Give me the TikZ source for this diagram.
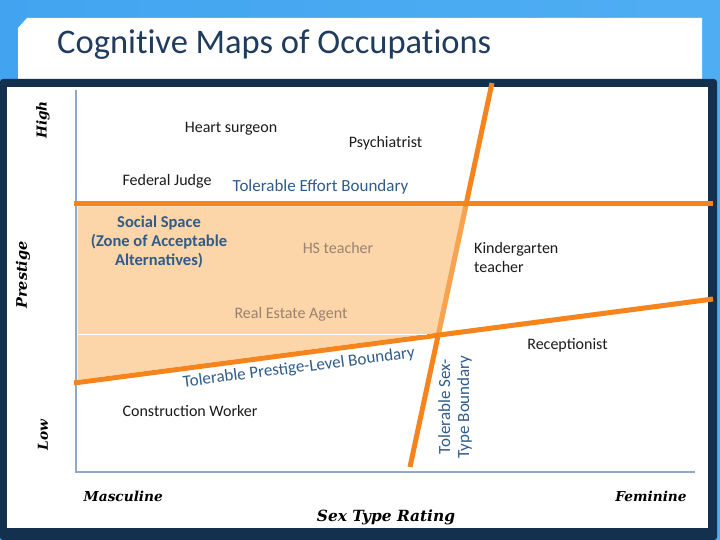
\documentclass[tikz,border=0pt]{standalone}
\usepackage{fontspec}
\setmainfont{Carlito}
\newfontfamily\titlefont{Carlito}[Ligatures=NoCommon]
\newfontfamily\axisfont{DejaVu Serif}
\definecolor{bgblue}{HTML}{42A4F0}
\definecolor{bgblue2}{HTML}{4FAEF3}
\definecolor{navy}{HTML}{14304F}
\definecolor{titleblue}{HTML}{1F3B5E}
\definecolor{labelblue}{HTML}{2F5C8A}
\definecolor{darktext}{HTML}{1B1B1B}
\definecolor{fadetext}{HTML}{998271}
\definecolor{axisc}{HTML}{8EA9CC}
\definecolor{orangec}{HTML}{F6841C}
\definecolor{zonefill}{RGB}{250,185,113}
\begin{document}
\begin{tikzpicture}[x=1pt,y=-1pt,
  lab/.style={inner sep=0pt, text=darktext, font=\fontsize{16}{19}\selectfont},
  bluelab/.style={inner sep=0pt, text=labelblue, font=\fontsize{17}{20}\selectfont},
  fadelab/.style={lab, text=fadetext},
  axlab/.style={inner sep=0pt, text=black, font=\axisfont\bfseries\itshape\fontsize{13.7}{16}\selectfont},
  orangeline/.style={draw=orangec, line width=5pt},
  axisline/.style={draw=axisc, line width=2.5pt}
]
\useasboundingbox (0,0) rectangle (720,540);
% background
\shade[left color=bgblue, right color=bgblue2] (0,0) rectangle (720,540);
% title box
\fill[white] (18,28) -- (27,18) -- (702,18) -- (702,85) -- (18,85) -- cycle;
\node[anchor=base west, inner sep=0pt, text=titleblue, font=\titlefont\fontsize{34.5}{40}\selectfont] (title) at (57,53.5) {Cognitive Maps of Occupations};
% navy frame and white panel
\fill[navy, rounded corners=3pt] (0,79) rectangle (717,540);
\fill[white] (7,87) rectangle (708,528);
% axes
\coordinate (ytop) at (76,90);
\coordinate (origin) at (76,472);
\coordinate (xend) at (695,472);
\draw[axisline] (ytop) -- (origin) -- (xend);
% boundaries
\coordinate (effL) at (74,204);
\coordinate (effR) at (713,204);
\coordinate (sexT) at (492,83);
\coordinate (sexB) at (410,467);
\coordinate (preL) at (74,383);
\coordinate (preR) at (713,299);
\draw[orangeline] (effL) -- (effR);
\draw[orangeline] (sexT) -- (sexB);
\draw[orangeline] (preL) -- (preR);
% zone of acceptable alternatives
\fill[zonefill, fill opacity=0.6] (77.5,206.5) -- (468.2,206.5) -- (441.4,332.1) -- (77.5,380) -- cycle;
\draw[white, line width=0.8pt] (77.5,334) -- (427,334);
% labels
\node[lab, anchor=base] (heart) at (231,133) {Heart surgeon};
\node[lab, anchor=base] (psych) at (385.5,148) {Psychiatrist};
\node[lab, anchor=base] (judge) at (167,186) {Federal Judge};
\node[bluelab, anchor=base] (effort) at (320.5,192) {Tolerable Effort Boundary};
\node[inner sep=0pt, text=labelblue, font=\bfseries\fontsize{16.5}{19}\selectfont, align=center] (social) at (159,241.5) {Social Space\\(Zone of Acceptable\\Alternatives)};
\node[fadelab, anchor=base] (hs) at (338,254) {HS teacher};
\node[lab, anchor=north west, align=left] (kinder) at (474,242) {Kindergarten\\teacher};
\node[fadelab, anchor=base] (realestate) at (291,318) {Real Estate Agent};
\node[lab, anchor=base] (recep) at (567.5,349) {Receptionist};
\node[bluelab, anchor=base, rotate=7.2] (prestigeb) at (299.5,372.5) {Tolerable Prestige-Level Boundary};
\node[lab, anchor=base] (constr) at (190,416.7) {Construction Worker};
\node[bluelab, rotate=90, align=center, font=\fontsize{17}{19}\selectfont] (sexb) at (455,407) {Tolerable Sex-\\Type Boundary};
% axis labels
\node[axlab, rotate=90] (high) at (43,120) {High};
\node[axlab, rotate=90, font=\axisfont\bfseries\itshape\fontsize{14.5}{17}\selectfont] (prestige) at (23,275) {Prestige};
\node[axlab, rotate=90] (low) at (43,435) {Low};
\node[axlab, anchor=base] (masc) at (123.3,501) {Masculine};
\node[axlab, anchor=base] (fem) at (651,501) {Feminine};
\node[axlab, anchor=base, font=\axisfont\bfseries\itshape\fontsize{15.4}{18}\selectfont] (sextype) at (386,521) {Sex Type Rating};
\end{tikzpicture}
\end{document}
